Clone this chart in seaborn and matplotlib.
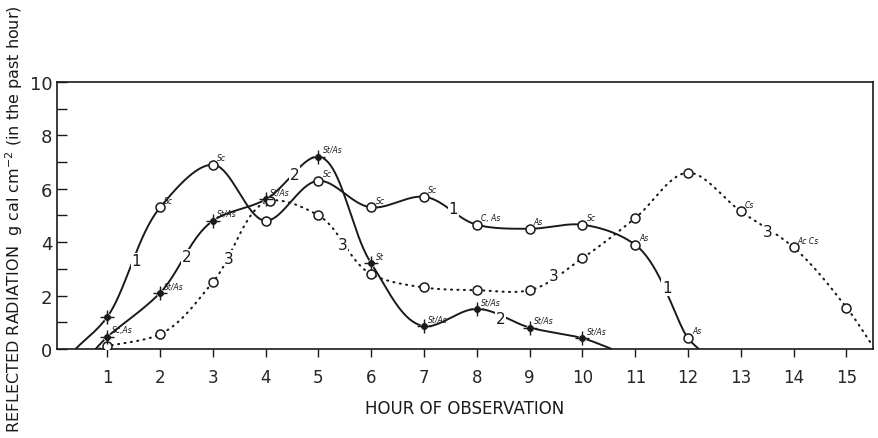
import numpy as np
import pandas as pd
import matplotlib
matplotlib.use("Agg")
import matplotlib.pyplot as plt
import seaborn as sns

# Observations (hour, reflected radiation) for the three series
hours_1 = [1, 2, 3, 4, 5, 6, 7, 8, 9, 10, 11, 12]
rad_1 = [1.2, 5.3, 6.9, 4.8, 6.3, 5.3, 5.7, 4.65, 4.5, 4.65, 3.9, 0.4]
ends_1 = [(0.4, 0.0), (12.2, 0.0)]
clouds_1 = ["", "Sc", "Sc", "", "Sc", "Sc", "Sc", "C, As", "As", "Sc", "As", "As"]

hours_2 = [1, 2, 3, 4, 5, 6, 7, 8, 9, 10]
rad_2 = [0.45, 2.1, 4.8, 5.6, 7.2, 3.2, 0.85, 1.5, 0.8, 0.4]
ends_2 = [(0.78, 0.0), (10.55, 0.0)]
clouds_2 = ["Sc,As", "St/As", "St/As", "St/As", "St/As", "St", "St/As", "St/As", "St/As", "St/As"]

hours_3 = [1, 2, 3, 4.08, 5, 6, 7, 8, 9, 10, 11, 12, 13, 14, 15]
rad_3 = [0.1, 0.55, 2.5, 5.55, 5.0, 2.8, 2.3, 2.2, 2.2, 3.4, 4.9, 6.6, 5.15, 3.8, 1.55]
ends_3 = [(0.85, 0.0), (15.5, 0.1)]
clouds_3 = ["", "", "", "", "", "", "", "", "", "", "", "", "Cs", "Ac Cs", ""]

x_ticks = list(range(1, 16))
y_ticks = [0, 2, 4, 6, 8, 10]


def catmull_rom(xs, ys, n=40):
    """Smooth path through the given points (centripetal Catmull-Rom)."""
    p = np.column_stack([xs, ys]).astype(float)
    p = np.vstack([2 * p[0] - p[1], p, 2 * p[-1] - p[-2]])
    out = []
    alpha = 0.5
    for i in range(1, len(p) - 2):
        p0, p1, p2, p3 = p[i - 1], p[i], p[i + 1], p[i + 2]
        t0 = 0.0
        t1 = t0 + np.linalg.norm(p1 - p0) ** alpha
        t2 = t1 + np.linalg.norm(p2 - p1) ** alpha
        t3 = t2 + np.linalg.norm(p3 - p2) ** alpha
        t = np.linspace(t1, t2, n)[:, None]
        a1 = (t1 - t) / (t1 - t0) * p0 + (t - t0) / (t1 - t0) * p1
        a2 = (t2 - t) / (t2 - t1) * p1 + (t - t1) / (t2 - t1) * p2
        a3 = (t3 - t) / (t3 - t2) * p2 + (t - t2) / (t3 - t2) * p3
        b1 = (t2 - t) / (t2 - t0) * a1 + (t - t0) / (t2 - t0) * a2
        b2 = (t3 - t) / (t3 - t1) * a2 + (t - t1) / (t3 - t1) * a3
        c = (t2 - t) / (t2 - t1) * b1 + (t - t1) / (t2 - t1) * b2
        out.append(c if i == len(p) - 3 else c[:-1])
    c = np.vstack(out)
    return c[:, 0], c[:, 1]


def curve_frame(hours, rad, ends):
    xs = [ends[0][0]] + list(hours) + [ends[1][0]]
    ys = [ends[0][1]] + list(rad) + [ends[1][1]]
    sx, sy = catmull_rom(xs, ys)
    return pd.DataFrame({"hour": sx, "radiation": np.clip(sy, 0, None),
                         "order": np.arange(len(sx))})


sns.set_style("ticks")
plt.rcParams["font.family"] = ["DejaVu Sans"]

fig = plt.figure(figsize=(8.79, 4.39), dpi=100)
ax = fig.add_axes([0.065, 0.203, 0.928, 0.608])

ink = "#1a1a1a"

sns.lineplot(data=curve_frame(hours_1, rad_1, ends_1), x="hour", y="radiation",
             sort=False, estimator=None, color=ink, lw=1.4, ax=ax, zorder=2)
sns.lineplot(data=curve_frame(hours_2, rad_2, ends_2), x="hour", y="radiation",
             sort=False, estimator=None, color=ink, lw=1.4, ax=ax, zorder=2)
sns.lineplot(data=curve_frame(hours_3, rad_3, ends_3), x="hour", y="radiation",
             sort=False, estimator=None, color=ink, lw=1.5, ax=ax, zorder=2,
             linestyle=(0, (0.5, 2.6)), dash_capstyle="round")

# markers
sns.scatterplot(x=hours_1[1:], y=rad_1[1:], marker="o", s=42, facecolor="white",
                edgecolor=ink, linewidth=1.1, ax=ax, zorder=4)
sns.scatterplot(x=hours_1[:1], y=rad_1[:1], marker="o", s=30, color=ink, ax=ax, zorder=4)
sns.scatterplot(x=hours_1[:1], y=rad_1[:1], marker="+", s=110, color=ink,
                linewidth=1.0, ax=ax, zorder=5)
sns.scatterplot(x=hours_2, y=rad_2, marker="o", s=30, color=ink, ax=ax, zorder=4)
sns.scatterplot(x=hours_2, y=rad_2, marker="+", s=110, color=ink,
                linewidth=1.0, ax=ax, zorder=5)
sns.scatterplot(x=hours_3, y=rad_3, marker="o", s=42, facecolor="white",
                edgecolor=ink, linewidth=1.1, ax=ax, zorder=4)

# cloud-type notes next to the observations
for hs, rs, cs in [(hours_1, rad_1, clouds_1), (hours_2, rad_2, clouds_2),
                   (hours_3, rad_3, clouds_3)]:
    for h, r, c in zip(hs, rs, cs):
        if c:
            ax.text(h + 0.08, r + 0.18, c, fontsize=5.5, style="italic",
                    color=ink, zorder=6)

# inline curve numbers
bg = dict(facecolor="white", edgecolor="none", pad=0.5)
for x, y, s in [(1.55, 3.3, "1"), (7.55, 5.25, "1"), (11.6, 2.3, "1"),
                (2.5, 3.45, "2"), (4.55, 6.55, "2"), (8.45, 1.15, "2"),
                (3.3, 3.4, "3"), (5.45, 3.9, "3"), (9.45, 2.75, "3"),
                (13.5, 4.4, "3")]:
    ax.text(x, y, s, fontsize=11, ha="center", va="center", color=ink,
            bbox=bg, zorder=3)

ax.set_xlim(0.05, 15.5)
ax.set_ylim(0, 10)
ax.set_xticks(x_ticks)
ax.set_xticklabels([str(t) for t in x_ticks], fontsize=12)
ax.set_yticks(y_ticks)
ax.set_yticklabels([str(t) for t in y_ticks], fontsize=13)
ax.set_yticks([1, 3, 5, 7, 9], minor=True)
ax.tick_params(axis="y", which="both", direction="in", length=7, width=1, color=ink)
ax.tick_params(axis="x", direction="out", length=6, width=1, color=ink, pad=8)
for sp in ax.spines.values():
    sp.set_visible(True)
    sp.set_color(ink)
    sp.set_linewidth(1.2)

ax.set_ylabel("")
ax.set_xlabel("HOUR OF OBSERVATION", fontsize=12, labelpad=9, color=ink)
fig.text(0.016, 0.5, "REFLECTED RADIATION  g cal cm$^{-2}$ (in the past hour)",
         rotation=90, ha="center", va="center", fontsize=11.5, color=ink)

fig.savefig("out.png", dpi=100)
